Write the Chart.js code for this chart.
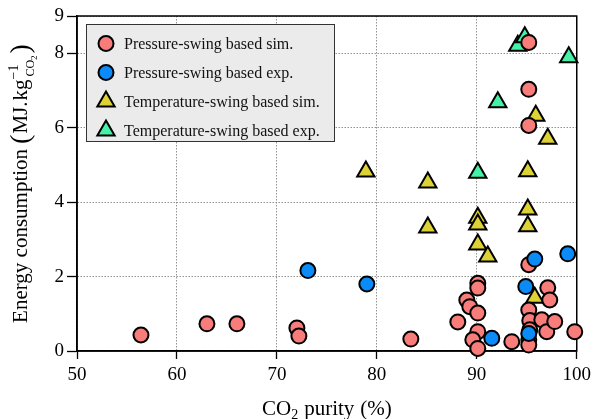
<!DOCTYPE html>
<html lang="en">
<head>
  <meta charset="UTF-8">
  <title>Energy consumption vs CO2 purity</title>
  <style>
    * {box-sizing:border-box;margin:0;padding:0;}
    body {background:#fff;}
    .wrap {width:596px;height:419px;position:relative;}
  </style>
</head>
<body>
  <div class="wrap"><canvas id="chart"></canvas></div>
  <script src="https://cdn.jsdelivr.net/npm/chart.js@4.4.1/dist/chart.umd.min.js"></script>
  <script>
    // values
    const psSimX = [56.4, 63.0, 66.0, 72.0, 72.2, 83.4, 88.1, 89.0, 89.3, 90.1, 90.1, 90.1, 90.1, 89.6, 90.1, 93.5,
                    95.2, 95.2, 95.3, 95.3, 95.2, 95.2, 96.5, 97.0, 97.1, 97.3, 97.8, 99.8, 95.2, 95.2, 95.2];
    const psSimY = [0.43, 0.73, 0.73, 0.62, 0.40, 0.32, 0.78, 1.37, 1.19, 1.82, 1.69, 1.02, 0.52, 0.30, 0.07, 0.25,
                    2.32, 1.10, 0.82, 0.57, 0.30, 0.16, 0.84, 0.52, 1.70, 1.37, 0.79, 0.52, 8.29, 7.03, 6.06];
    const psExpX = [73.1, 79.0, 91.5, 94.9, 95.2, 95.8, 99.1];
    const psExpY = [2.16, 1.80, 0.34, 1.73, 0.47, 2.47, 2.61];
    const tsSimX = [78.9, 85.1, 85.1, 90.1, 90.1, 90.1, 91.1, 95.1, 95.1, 95.1, 95.9, 97.1, 95.8];
    const tsSimY = [4.82, 4.53, 3.32, 3.58, 3.40, 2.86, 2.54, 4.83, 3.80, 3.35, 6.32, 5.70, 1.43];
    const tsExpX = [94.1, 94.8, 99.2, 92.1, 90.1];
    const tsExpY = [8.20, 8.43, 7.89, 6.68, 4.79];

    const seriesNames = ['Pressure-swing based sim.', 'Pressure-swing based exp.',
                         'Temperature-swing based sim.', 'Temperature-swing based exp.'];
    const xTicks = [50, 60, 70, 80, 90, 100];
    const yTicks = [0, 2, 4, 6, 8, 9];

    const SERIF = "'Liberation Serif', 'DejaVu Serif', serif";
    Chart.defaults.font.family = SERIF;
    Chart.defaults.color = '#000';

    function pts(xs, ys){ return xs.map((x,i)=>({x:x, y:ys[i]})); }

    const styles = [
      {pointStyle:'circle',   radius:7.5, bg:'#f87c79'},
      {pointStyle:'circle',   radius:7.5, bg:'#0a8bf8'},
      {pointStyle:'triangle', radius:10,  bg:'#dcd135'},
      {pointStyle:'triangle', radius:10,  bg:'#44f1a6'}
    ];
    const drawOrder = [1, 0, 2, 3];   // blue on top, then red, then triangles
    const allData = [pts(psSimX,psSimY), pts(psExpX,psExpY), pts(tsSimX,tsSimY), pts(tsExpX,tsExpY)];

    const datasets = allData.map((d,i)=>({
      label: seriesNames[i],
      data: d,
      order: drawOrder[i],
      pointStyle: styles[i].pointStyle,
      pointRadius: styles[i].radius,
      pointHoverRadius: styles[i].radius,
      backgroundColor: styles[i].bg,
      borderColor: '#000',
      borderWidth: 2,
      clip: false
    }));

    function drawRich(ctx, parts, x, y){
      parts.forEach(p=>{
        ctx.font = p.size + 'px ' + SERIF;
        ctx.fillText(p.t, x + (p.dx||0), y + (p.dy||0));
        x += ctx.measureText(p.t).width + (p.after||0);
      });
    }
    function richWidth(ctx, parts){
      let w = 0;
      parts.forEach(p=>{ ctx.font = p.size + 'px ' + SERIF; w += ctx.measureText(p.t).width + (p.after||0); });
      return w;
    }

    const decorations = {
      id: 'decorations',
      beforeDatasetsDraw(chart){
        const {ctx, chartArea:a} = chart;
        ctx.save();
        ctx.strokeStyle = '#000';
        ctx.lineWidth = 1.5;
        ctx.strokeRect(a.left, a.top, a.right - a.left, a.bottom - a.top);
        ctx.restore();
      },
      afterDraw(chart){
        const {ctx, chartArea:a} = chart;
        ctx.save();
        ctx.fillStyle = '#000';
        ctx.textBaseline = 'alphabetic';

        // x title
        const xParts = [
          {t:'CO', size:21},
          {t:'2', size:14, dy:4, after:6},
          {t:'purity', size:21, after:6},
          {t:'(%)', size:21}
        ];
        const xw = richWidth(ctx, xParts);
        drawRich(ctx, xParts, (a.left + a.right)/2 - xw/2, 415);

        // y title
        ctx.save();
        ctx.translate(27, (a.top + a.bottom)/2);
        ctx.rotate(-Math.PI/2);
        const yParts = [
          {t:'Energy consumption', size:21, after:5},
          {t:'(', size:28, dy:2, after:1},
          {t:'MJ.', size:21, after:1},
          {t:'kg', size:21},
          {t:'\u22121', size:14, dy:-9, after:-12},
          {t:'CO', size:12, dy:7},
          {t:'2', size:9, dy:10, after:2},
          {t:')', size:28, dy:2}
        ];
        const yw = richWidth(ctx, yParts);
        drawRich(ctx, yParts, -yw/2, 0);
        ctx.restore();

        // legend box
        ctx.fillStyle = '#ebebeb';
        ctx.fillRect(86, 24, 248, 117);
        ctx.strokeStyle = '#333';
        ctx.lineWidth = 1;
        ctx.strokeRect(86.5, 24.5, 248, 117);
        ctx.textBaseline = 'middle';
        seriesNames.forEach((name,i)=>{
          const y = 43.5 + i*29;
          ctx.fillStyle = styles[i].bg;
          ctx.strokeStyle = '#000';
          ctx.lineWidth = 2;
          Chart.helpers.drawPoint(ctx, {pointStyle:styles[i].pointStyle, radius:styles[i].radius, rotation:0, borderWidth:2}, 106, y);
          ctx.fillStyle = '#111';
          ctx.font = '16px ' + SERIF;
          ctx.fillText(name, 124, y + 1);
        });
        ctx.restore();
      }
    };

    new Chart(document.getElementById('chart'), {
      type: 'scatter',
      data: {datasets: datasets},
      options: {
        responsive: true,
        maintainAspectRatio: false,
        animation: false,
        layout: {padding: {left:0, top:16, right:18, bottom:0}},
        plugins: {legend:{display:false}, tooltip:{enabled:false}},
        scales: {
          x: {
            type: 'linear', min: 50, max: 100,
            afterBuildTicks: s => { s.ticks = xTicks.map(v=>({value:v})); },
            afterFit: s => { s.height = 68; },
            grid: {color:'#777', lineWidth:0.8, tickColor:'#000', tickWidth:1.3, tickLength:8, tickBorderDash:[]},
            border: {display:true, color:'#000', width:1.5, dash:[1.5,1.5]},
            ticks: {font:{size:19}, color:'#000', padding:5, maxRotation:0}
          },
          y: {
            type: 'linear', min: 0, max: 9,
            afterBuildTicks: s => { s.ticks = yTicks.map(v=>({value:v})); },
            afterFit: s => { s.width = 77; },
            grid: {color:'#777', lineWidth:0.8, tickColor:'#000', tickWidth:1.3, tickLength:10, tickBorderDash:[]},
            border: {display:true, color:'#000', width:1.5, dash:[1.5,1.5]},
            ticks: {font:{size:19}, color:'#000', padding:3}
          }
        }
      },
      plugins: [decorations]
    });
  </script>
</body>
</html>
